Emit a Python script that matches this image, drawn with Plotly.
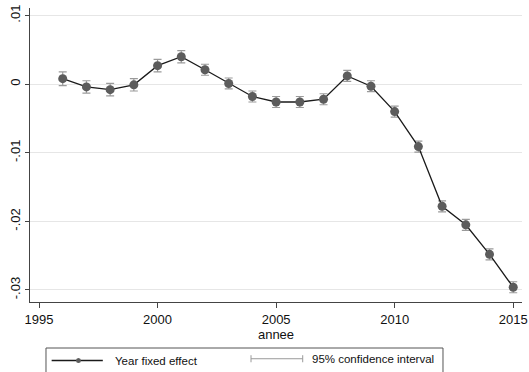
import plotly.graph_objects as go

# Year fixed effects with 95% confidence intervals
years = list(range(1996, 2016))
effect = [0.0008, -0.0004, -0.0008, -0.0001, 0.0027, 0.0040, 0.0021, 0.0001,
          -0.0018, -0.0026, -0.0026, -0.0022, 0.0012, -0.0003, -0.0040, -0.0091,
          -0.0178, -0.0205, -0.0248, -0.0296]
ci_half = [0.0010, 0.0009, 0.0009, 0.0009, 0.0009, 0.0009, 0.0008, 0.0008,
           0.0008, 0.0008, 0.0008, 0.0008, 0.0008, 0.0008, 0.0008, 0.0008,
           0.0008, 0.0008, 0.0008, 0.0008]
x_ticks = [1995, 2000, 2005, 2010, 2015]
y_ticks = [0.01, 0, -0.01, -0.02, -0.03]
y_tick_text = [".01", "0", "-.01", "-.02", "-.03"]

FONT = "Liberation Sans, Arial, sans-serif"

fig = go.Figure()

# confidence interval bars
fig.add_trace(go.Scatter(
    x=years, y=effect, mode="markers",
    marker=dict(size=1, color="rgba(0,0,0,0)"),
    error_y=dict(type="data", array=ci_half, color="#9a9a9a", thickness=1.2, width=4),
    showlegend=False, hoverinfo="skip",
))

# point estimates
fig.add_trace(go.Scatter(
    x=years, y=effect, mode="lines+markers",
    line=dict(color="#1a1a1a", width=1.3),
    marker=dict(size=9, color="#5c5c5c"),
    showlegend=False,
))

# legend box drawn below the plot area
shapes = [
    dict(type="rect", xref="paper", yref="paper", x0=0.0325, x1=0.8394,
         y0=-0.27, y1=-0.1565, line=dict(color="#555555", width=1), fillcolor="white"),
    dict(type="line", xref="paper", yref="paper", x0=0.044, x1=0.148,
         y0=-0.199, y1=-0.199, line=dict(color="#1a1a1a", width=1.3)),
    dict(type="line", xref="paper", yref="paper", x0=0.4492, x1=0.5543,
         y0=-0.193, y1=-0.193, line=dict(color="#9a9a9a", width=1)),
    dict(type="line", xref="paper", yref="paper", x0=0.4492, x1=0.4492,
         y0=-0.181, y1=-0.205, line=dict(color="#9a9a9a", width=1)),
    dict(type="line", xref="paper", yref="paper", x0=0.5543, x1=0.5543,
         y0=-0.181, y1=-0.205, line=dict(color="#9a9a9a", width=1)),
    dict(type="circle", xref="paper", yref="paper", x0=0.0935, x1=0.1035,
         y0=-0.2075, y1=-0.1905, line=dict(color="#5c5c5c", width=0), fillcolor="#5c5c5c"),
]

annotations = [
    dict(text="Year fixed effect", xref="paper", yref="paper", x=0.1687, y=-0.199,
         xanchor="left", yanchor="middle", showarrow=False,
         font=dict(family=FONT, size=11.5, color="#111111")),
    dict(text="95% confidence interval", xref="paper", yref="paper", x=0.569, y=-0.193,
         xanchor="left", yanchor="middle", showarrow=False,
         font=dict(family=FONT, size=11.5, color="#111111")),
]

fig.update_layout(
    width=529, height=372,
    margin=dict(l=30, r=7, t=8, b=70, autoexpand=False),
    paper_bgcolor="white", plot_bgcolor="white",
    font=dict(family=FONT, size=13, color="#111111"),
    shapes=shapes, annotations=annotations,
    xaxis=dict(
        range=[1994.62, 2015.37], tickvals=x_ticks, ticks="outside", ticklen=5,
        tickcolor="#444444", showline=True, linecolor="#444444", linewidth=1,
        showgrid=False, zeroline=False, automargin=False,
        title=dict(text="annee", font=dict(size=13), standoff=2),
        tickfont=dict(size=13),
    ),
    yaxis=dict(
        range=[-0.03175, 0.0111], tickvals=y_ticks, ticktext=y_tick_text,
        tickangle=-90, ticks="outside", ticklen=4, tickcolor="#444444",
        showline=True, linecolor="#444444", linewidth=1, automargin=False,
        showgrid=True, gridcolor="#e6e6e6", gridwidth=1, zeroline=False,
        tickfont=dict(size=13),
    ),
)

fig.write_html("out.html")
